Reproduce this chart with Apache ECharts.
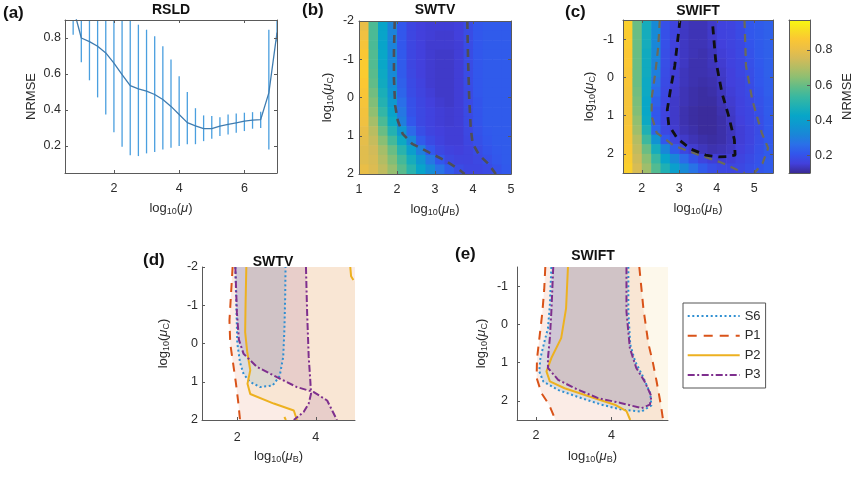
<!DOCTYPE html>
<html>
<head>
<meta charset="utf-8">
<script src="https://cdn.jsdelivr.net/npm/echarts/dist/echarts.min.js"></script>
<style>
html, body { margin: 0; padding: 0; background: #fff; }
#chart { width: 857px; height: 479px; }
</style>
</head>
<body>
<div id="chart"></div>
<script>
// ---- (a) RSLD: mean and error bars ----
const rsldX = [0.75, 1, 1.25, 1.5, 1.75, 2, 2.25, 2.5, 2.75, 3, 3.25, 3.5, 3.75, 4, 4.25, 4.5, 4.75, 5, 5.25, 5.5, 5.75, 6, 6.25, 6.5, 6.75, 7];
const rsldMean = [0.97, 0.80, 0.78, 0.754, 0.717, 0.66, 0.597, 0.535, 0.517, 0.505, 0.486, 0.458, 0.42, 0.375, 0.33, 0.312, 0.296, 0.296, 0.31, 0.32, 0.329, 0.338, 0.344, 0.347, 0.495, 0.83];
const rsldLow = [0.818, 0.665, 0.565, 0.47, 0.375, 0.277, 0.196, 0.148, 0.144, 0.159, 0.167, 0.18, 0.19, 0.2, 0.21, 0.21, 0.227, 0.24, 0.255, 0.264, 0.274, 0.283, 0.296, 0.30, 0.18, 0.78];
const rsldHigh = [1.12, 0.935, 0.995, 1.04, 1.06, 1.04, 1.0, 0.93, 0.874, 0.846, 0.81, 0.754, 0.68, 0.588, 0.5, 0.41, 0.37, 0.366, 0.36, 0.375, 0.38, 0.385, 0.388, 0.39, 0.846, 0.9];

// ---- (b) SWTV NRMSE map, cell centres ----
const swtvB = [1.125, 1.375, 1.625, 1.875, 2.125, 2.375, 2.625, 2.875, 3.125, 3.375, 3.625, 3.875, 4.125, 4.375, 4.625, 4.875];
const swtvC = [-1.875, -1.625, -1.375, -1.125, -0.875, -0.625, -0.375, -0.125, 0.125, 0.375, 0.625, 0.875, 1.125, 1.375, 1.625, 1.875];
const swtvNrmse = [
  [0.80, 0.56, 0.42, 0.31, 0.21, 0.17, 0.155, 0.15, 0.15, 0.15, 0.155, 0.185, 0.21, 0.22, 0.22, 0.22],
  [0.82, 0.56, 0.42, 0.31, 0.21, 0.17, 0.155, 0.15, 0.145, 0.145, 0.155, 0.185, 0.21, 0.22, 0.22, 0.22],
  [0.84, 0.56, 0.42, 0.31, 0.21, 0.17, 0.155, 0.145, 0.145, 0.145, 0.15, 0.185, 0.21, 0.22, 0.22, 0.22],
  [0.86, 0.57, 0.43, 0.32, 0.215, 0.17, 0.155, 0.145, 0.14, 0.14, 0.15, 0.185, 0.21, 0.22, 0.22, 0.22],
  [0.87, 0.57, 0.43, 0.32, 0.22, 0.17, 0.155, 0.145, 0.14, 0.14, 0.15, 0.185, 0.21, 0.22, 0.22, 0.22],
  [0.87, 0.58, 0.44, 0.33, 0.22, 0.175, 0.155, 0.145, 0.14, 0.14, 0.15, 0.185, 0.21, 0.22, 0.22, 0.22],
  [0.86, 0.59, 0.45, 0.34, 0.23, 0.18, 0.16, 0.145, 0.14, 0.14, 0.15, 0.185, 0.21, 0.22, 0.22, 0.22],
  [0.85, 0.61, 0.47, 0.36, 0.24, 0.185, 0.165, 0.15, 0.14, 0.14, 0.15, 0.18, 0.21, 0.22, 0.22, 0.22],
  [0.84, 0.63, 0.49, 0.38, 0.26, 0.195, 0.17, 0.155, 0.145, 0.14, 0.15, 0.18, 0.205, 0.22, 0.22, 0.22],
  [0.83, 0.65, 0.52, 0.41, 0.28, 0.2, 0.175, 0.16, 0.15, 0.145, 0.15, 0.18, 0.205, 0.22, 0.22, 0.22],
  [0.82, 0.68, 0.56, 0.44, 0.30, 0.21, 0.175, 0.16, 0.15, 0.145, 0.15, 0.18, 0.205, 0.22, 0.22, 0.22],
  [0.80, 0.71, 0.60, 0.49, 0.37, 0.25, 0.19, 0.165, 0.155, 0.15, 0.15, 0.175, 0.2, 0.215, 0.22, 0.22],
  [0.79, 0.73, 0.64, 0.55, 0.44, 0.32, 0.22, 0.18, 0.16, 0.15, 0.15, 0.17, 0.195, 0.21, 0.22, 0.22],
  [0.78, 0.75, 0.68, 0.60, 0.50, 0.40, 0.30, 0.21, 0.175, 0.16, 0.155, 0.165, 0.185, 0.205, 0.215, 0.22],
  [0.78, 0.76, 0.70, 0.63, 0.55, 0.46, 0.37, 0.28, 0.21, 0.175, 0.165, 0.165, 0.175, 0.195, 0.21, 0.22],
  [0.80, 0.77, 0.72, 0.66, 0.58, 0.50, 0.42, 0.34, 0.27, 0.22, 0.185, 0.17, 0.17, 0.18, 0.20, 0.215]
];
const swtvContourL = [[1.94, -2], [1.92, -1.2], [1.92, -0.5], [1.95, 0.2], [2.02, 0.6], [2.15, 0.95], [2.4, 1.21], [2.83, 1.43], [3.27, 1.65], [3.62, 1.87], [3.78, 2]];
const swtvContourR = [[3.85, -2], [3.87, -1], [3.9, 0], [3.94, 0.8], [3.99, 1.2], [4.16, 1.5], [4.41, 1.74], [4.6, 2]];

// ---- (c) SWIFT NRMSE map, cell centres ----
const swiftB = [1.625, 1.875, 2.125, 2.375, 2.625, 2.875, 3.125, 3.375, 3.625, 3.875, 4.125, 4.375, 4.625, 4.875, 5.125, 5.375];
const swiftC = [-1.375, -1.125, -0.875, -0.625, -0.375, -0.125, 0.125, 0.375, 0.625, 0.875, 1.125, 1.375, 1.625, 1.875, 2.125, 2.375];
const swiftNrmse = [
  [0.88, 0.60, 0.46, 0.33, 0.195, 0.165, 0.135, 0.125, 0.125, 0.14, 0.16, 0.165, 0.18, 0.21, 0.22, 0.23],
  [0.87, 0.60, 0.46, 0.33, 0.195, 0.165, 0.135, 0.125, 0.125, 0.14, 0.16, 0.165, 0.18, 0.21, 0.22, 0.23],
  [0.87, 0.60, 0.46, 0.32, 0.195, 0.16, 0.135, 0.125, 0.125, 0.135, 0.155, 0.165, 0.175, 0.205, 0.22, 0.23],
  [0.86, 0.60, 0.45, 0.32, 0.19, 0.16, 0.135, 0.125, 0.12, 0.13, 0.15, 0.16, 0.175, 0.2, 0.22, 0.23],
  [0.86, 0.60, 0.45, 0.31, 0.19, 0.155, 0.135, 0.12, 0.12, 0.13, 0.145, 0.16, 0.17, 0.195, 0.215, 0.23],
  [0.85, 0.60, 0.45, 0.30, 0.185, 0.15, 0.13, 0.12, 0.12, 0.125, 0.14, 0.155, 0.17, 0.19, 0.21, 0.23],
  [0.85, 0.60, 0.44, 0.27, 0.18, 0.15, 0.13, 0.12, 0.115, 0.12, 0.135, 0.155, 0.165, 0.185, 0.21, 0.225],
  [0.84, 0.61, 0.44, 0.25, 0.175, 0.145, 0.125, 0.115, 0.11, 0.115, 0.13, 0.15, 0.165, 0.18, 0.205, 0.225],
  [0.84, 0.62, 0.43, 0.23, 0.17, 0.14, 0.125, 0.115, 0.11, 0.11, 0.125, 0.145, 0.16, 0.175, 0.2, 0.22],
  [0.84, 0.63, 0.43, 0.21, 0.165, 0.14, 0.12, 0.11, 0.105, 0.105, 0.12, 0.14, 0.16, 0.17, 0.195, 0.22],
  [0.84, 0.65, 0.44, 0.21, 0.165, 0.14, 0.12, 0.11, 0.105, 0.105, 0.115, 0.135, 0.155, 0.17, 0.19, 0.215],
  [0.85, 0.67, 0.48, 0.24, 0.175, 0.145, 0.125, 0.115, 0.105, 0.105, 0.115, 0.13, 0.15, 0.165, 0.185, 0.215],
  [0.85, 0.70, 0.54, 0.36, 0.21, 0.165, 0.14, 0.125, 0.115, 0.11, 0.115, 0.13, 0.15, 0.165, 0.19, 0.215],
  [0.86, 0.72, 0.60, 0.46, 0.32, 0.22, 0.17, 0.145, 0.13, 0.12, 0.125, 0.135, 0.155, 0.17, 0.195, 0.22],
  [0.87, 0.74, 0.64, 0.53, 0.42, 0.32, 0.25, 0.20, 0.165, 0.15, 0.145, 0.15, 0.165, 0.18, 0.2, 0.22],
  [0.88, 0.76, 0.67, 0.57, 0.48, 0.40, 0.33, 0.27, 0.22, 0.19, 0.175, 0.17, 0.175, 0.19, 0.205, 0.22]
];
const swiftInner = [[3.02, -1.5], [2.95, -0.9], [2.88, -0.3], [2.77, 0.3], [2.68, 0.85], [2.72, 1.25], [2.95, 1.6], [3.3, 1.87], [3.7, 2.03], [4.05, 2.08], [4.3, 2.07], [4.49, 2.03], [4.47, 1.63], [4.32, 1.02], [4.14, 0.41], [3.97, -0.46], [3.88, -1.5]];
const swiftOuterL = [[2.48, -1.5], [2.44, -0.8], [2.36, -0.1], [2.27, 0.5], [2.26, 1.0], [2.4, 1.45], [2.85, 1.78], [3.53, 2.03], [4.1, 2.22], [4.55, 2.42], [4.75, 2.5]];
const swiftOuterR = [[4.74, -1.5], [4.78, -0.3], [4.95, 0.6], [5.2, 1.45], [5.37, 1.85], [5.22, 2.25], [5.0, 2.5]];

// colour scale of the maps
const cbMin = 0.1, cbMax = 0.97;
const cbTicks = [0.2, 0.4, 0.6, 0.8];

// ---- (d) SWTV region boundaries ----
const dS6 = [[1.95, -2], [1.98, -0.8], [2.0, 0], [2.07, 0.5], [2.16, 0.8], [2.32, 1.0], [2.58, 1.14], [2.9, 1.1], [3.08, 0.85], [3.17, 0.35], [3.2, -0.35], [3.22, -1.2], [3.23, -2]];
const dP1 = [[1.88, -2], [1.84, -1.3], [1.8, -0.6], [1.82, 0], [1.89, 0.5], [1.96, 1.0], [2.02, 1.5], [2.07, 2]];
const dP2 = [[2.23, -2], [2.21, -1], [2.2, -0.3], [2.25, 0.2], [2.33, 0.7], [2.26, 1.05], [2.33, 1.32], [2.93, 1.57], [3.44, 1.75], [3.52, 2]];
const dP2Corner = [[4.88, -2], [4.9, -1.76], [4.96, -1.66]];
const dP2Bit = [[3.2, 1.92], [3.24, 2]];
const dP3L = [[1.95, -2], [1.99, -0.8], [2.04, -0.1], [2.16, 0.27], [2.5, 0.61], [3.01, 0.88], [3.52, 1.14], [3.95, 1.27], [4.29, 1.49], [4.54, 2]];
const dP3R = [[3.75, -2], [3.78, -0.8], [3.82, 0.35], [3.86, 0.96], [3.88, 1.31], [3.82, 1.57], [3.69, 1.79], [3.44, 2]];

// ---- (e) SWIFT region boundaries ----
const eS6 = [[2.41, -1.5], [2.37, -0.5], [2.32, 0.1], [2.24, 0.4], [2.12, 0.88], [2.09, 1.23], [2.2, 1.5], [2.6, 1.72], [3.21, 1.93], [3.74, 2.1], [4.27, 2.23], [4.8, 2.28], [5.06, 2.12], [5.03, 1.8], [4.82, 1.33], [4.63, 0.97], [4.5, 0.53], [4.45, -0.33], [4.45, -1.5]];
const eP1L = [[2.25, -1.5], [2.22, -0.9], [2.17, -0.3], [2.1, 0.3], [2.03, 0.9], [2.02, 1.4], [2.15, 1.8], [2.35, 2.1], [2.52, 2.5]];
const eP1R = [[4.74, -1.5], [4.8, -0.9], [4.85, -0.4], [4.98, 0.5], [5.1, 1.0], [5.2, 1.5], [5.31, 2.1], [5.37, 2.5]];
const eP2 = [[2.85, -1.5], [2.8, -0.42], [2.67, 0.36], [2.41, 0.88], [2.28, 1.23], [2.37, 1.49], [2.76, 1.67], [3.56, 1.93], [4.09, 2.1], [4.4, 2.27], [4.5, 2.5]];
const eP3 = [[2.46, -1.5], [2.41, -0.33], [2.37, 0.36], [2.32, 0.88], [2.32, 1.14], [2.59, 1.45], [3.03, 1.67], [3.65, 1.93], [4.27, 2.06], [4.8, 2.19], [5.02, 2.1], [5.06, 1.88], [4.88, 1.49], [4.66, 1.14], [4.49, 0.62], [4.4, -0.33], [4.4, -1.5]];

const legendNames = ['S6', 'P1', 'P2', 'P3'];

// ---------------------------------------------------------------
const FONT = '"Liberation Sans", Arial, Helvetica, sans-serif';
const AXIS_COLOR = '#5a5a5a';
const TEXT_COLOR = '#2b2b2b';
// parula-like map, evenly spaced stops (tuned to the printed figure)
const parula = ['#3a2a95', '#4240dc', '#3256ec', '#2a70e8', '#1a86d8', '#0f97d0', '#07a6c8', '#1fb0b4', '#3ab8a0',
  '#60bc88', '#8cbf73', '#b2bd64', '#d4bb58', '#ecbf45', '#fbc733', '#f7df22', '#f7f910'];
const lineColors = { S6: '#2f8fd2', P1: '#d95319', P2: '#edb120', P3: '#7e2f8e' };
const fillColors = {
  S6: 'rgba(0,114,189,0.12)', P1: 'rgba(217,83,25,0.11)',
  P2: 'rgba(237,177,32,0.09)', P3: 'rgba(126,47,142,0.13)'
};
const dashes = { S6: [2, 2.6], P1: [9, 7], P2: 'solid', P3: [7, 2.5, 2, 2.5] };

const RICH = {
  sub: { fontSize: 9, fontFamily: FONT, color: TEXT_COLOR, padding: [7, 0, 0, 0] },
  it: { fontSize: 13, fontFamily: FONT, color: TEXT_COLOR, fontStyle: 'italic' }
};

function axis(opt) {
  const a = {
    type: 'value', z: 10,
    axisLine: { show: true, onZero: false, lineStyle: { color: AXIS_COLOR, width: 1 } },
    axisTick: { show: true, inside: true, length: 3, lineStyle: { color: AXIS_COLOR } },
    axisLabel: { color: TEXT_COLOR, fontSize: 12.5, fontFamily: FONT },
    splitLine: { show: false },
    nameLocation: 'middle',
    nameTextStyle: { color: TEXT_COLOR, fontSize: 13, fontFamily: FONT, rich: RICH }
  };
  for (const k in opt) {
    if (a[k] && typeof a[k] === 'object' && !Array.isArray(opt[k]) && typeof opt[k] === 'object') {
      a[k] = Object.assign({}, a[k], opt[k]);
    } else {
      a[k] = opt[k];
    }
  }
  return a;
}
function ticks(vals, margin) {
  return {
    axisTick: { customValues: vals },
    axisLabel: { customValues: vals, margin: margin }
  };
}
const noLabel = { axisLabel: { show: false } };

const grid = [
  { left: 65, top: 20, width: 212, height: 153 },   // a
  { left: 359, top: 21, width: 152, height: 153 },  // b
  { left: 623, top: 20, width: 150, height: 153 },  // c
  { left: 789, top: 20, width: 21, height: 153 },   // colour bar
  { left: 202, top: 267, width: 153, height: 153 }, // d
  { left: 517, top: 267, width: 151, height: 153 }  // e
];

const xAxis = [
  axis(Object.assign({ gridIndex: 0, min: 0.5, max: 7, name: 'log{sub|10}({it|μ})', nameGap: 27 }, ticks([2, 4, 6], 9))),
  axis(Object.assign({ gridIndex: 0, min: 0.5, max: 7, position: 'top' }, ticks([2, 4, 6], 9), noLabel)),
  axis(Object.assign({ gridIndex: 1, min: 1, max: 5, name: 'log{sub|10}({it|μ}{sub|B})', nameGap: 27 }, ticks([1, 2, 3, 4, 5], 9))),
  axis(Object.assign({ gridIndex: 1, min: 1, max: 5, position: 'top' }, ticks([1, 2, 3, 4, 5], 9), noLabel)),
  axis(Object.assign({ gridIndex: 2, min: 1.5, max: 5.5, name: 'log{sub|10}({it|μ}{sub|B})', nameGap: 27 }, ticks([2, 3, 4, 5], 9))),
  axis(Object.assign({ gridIndex: 2, min: 1.5, max: 5.5, position: 'top' }, ticks([2, 3, 4, 5], 9), noLabel)),
  axis({ gridIndex: 3, min: 0, max: 1, axisTick: { show: false }, axisLabel: { show: false } }),
  axis({ gridIndex: 3, min: 0, max: 1, position: 'top', axisTick: { show: false }, axisLabel: { show: false } }),
  axis(Object.assign({ gridIndex: 4, min: 1.1, max: 5, name: 'log{sub|10}({it|μ}{sub|B})', nameGap: 28 }, ticks([2, 4], 11))),
  axis(Object.assign({ gridIndex: 5, min: 1.5, max: 5.5, name: 'log{sub|10}({it|μ}{sub|B})', nameGap: 28 }, ticks([2, 4], 9)))
];

const yAxis = [
  axis(Object.assign({ gridIndex: 0, min: 0.05, max: 0.9, name: 'NRMSE', nameGap: 27 }, ticks([0.2, 0.4, 0.6, 0.8], 4))),
  axis(Object.assign({ gridIndex: 0, min: 0.05, max: 0.9, position: 'right' }, ticks([0.2, 0.4, 0.6, 0.8], 4), noLabel)),
  axis(Object.assign({ gridIndex: 1, min: -2, max: 2, inverse: true, name: 'log{sub|10}({it|μ}{sub|C})', nameGap: 24 }, ticks([-2, -1, 0, 1, 2], 5))),
  axis(Object.assign({ gridIndex: 1, min: -2, max: 2, inverse: true, position: 'right' }, ticks([-2, -1, 0, 1, 2], 5), noLabel)),
  axis(Object.assign({ gridIndex: 2, min: -1.5, max: 2.5, inverse: true, name: 'log{sub|10}({it|μ}{sub|C})', nameGap: 26 }, ticks([-1, 0, 1, 2], 9))),
  axis(Object.assign({ gridIndex: 2, min: -1.5, max: 2.5, inverse: true, position: 'right' }, ticks([-1, 0, 1, 2], 9), noLabel)),
  axis(Object.assign({ gridIndex: 3, min: cbMin, max: cbMax, position: 'right', name: 'NRMSE', nameGap: 31, nameRotate: 90 }, ticks(cbTicks, 5))),
  axis({ gridIndex: 3, min: cbMin, max: cbMax, position: 'left', axisTick: { show: false }, axisLabel: { show: false } }),
  axis(Object.assign({ gridIndex: 4, min: -2, max: 2, inverse: true, name: 'log{sub|10}({it|μ}{sub|C})', nameGap: 31 }, ticks([-2, -1, 0, 1, 2], 4))),
  axis(Object.assign({ gridIndex: 5, min: -1.5, max: 2.5, inverse: true, name: 'log{sub|10}({it|μ}{sub|C})', nameGap: 28 }, ticks([-1, 0, 1, 2], 9)))
];

const series = [];
const mapSeries = [];

// (a) error bars + mean line
series.push({
  type: 'custom', xAxisIndex: 0, yAxisIndex: 0, silent: true,
  data: rsldX.map((x, i) => [x, rsldLow[i], rsldHigh[i]]),
  encode: { x: 0, y: [1, 2] },
  renderItem: function (params, api) {
    const cs = params.coordSys;
    const lo = api.coord([api.value(0), api.value(1)]);
    const hi = api.coord([api.value(0), api.value(2)]);
    const y1 = Math.min(lo[1], cs.y + cs.height);
    const y2 = Math.max(hi[1], cs.y);
    return { type: 'line', shape: { x1: lo[0], y1: y1, x2: lo[0], y2: y2 }, style: { stroke: '#4a9fdf', lineWidth: 1.3 } };
  }
});
series.push({
  type: 'line', xAxisIndex: 0, yAxisIndex: 0, silent: true, symbol: 'none',
  data: rsldX.map((x, i) => [x, rsldMean[i]]),
  lineStyle: { color: '#3f7cb0', width: 1.3 }
});

// heat maps
function mapCells(bs, cs, grid) {
  const out = [];
  cs.forEach((c, i) => bs.forEach((b, j) => out.push([b, c, grid[i][j]])));
  return out;
}
function cellSeries(xi, yi, data) {
  return {
    type: 'custom', xAxisIndex: xi, yAxisIndex: yi, silent: true, z: 1,
    data: data, encode: { x: 0, y: 1 },
    renderItem: function (params, api) {
      const b = api.value(0), c = api.value(1);
      const p0 = api.coord([b - 0.125, c - 0.125]);
      const p1 = api.coord([b + 0.125, c + 0.125]);
      return {
        type: 'rect',
        shape: { x: Math.min(p0[0], p1[0]), y: Math.min(p0[1], p1[1]), width: Math.abs(p1[0] - p0[0]) + 0.6, height: Math.abs(p1[1] - p0[1]) + 0.6 },
        style: { fill: api.visual('color') }
      };
    }
  };
}
function contour(xi, yi, pts, color, width, dash) {
  return {
    type: 'line', xAxisIndex: xi, yAxisIndex: yi, silent: true, symbol: 'none', z: 3,
    data: pts, lineStyle: { color: color, width: width, type: dash }
  };
}

mapSeries.push(series.length);
series.push(cellSeries(2, 2, mapCells(swtvB, swtvC, swtvNrmse)));
series.push(contour(2, 2, swtvContourL, '#4f4f55', 2.6, [8, 6]));
series.push(contour(2, 2, swtvContourR, '#4f4f55', 2.6, [8, 6]));

mapSeries.push(series.length);
series.push(cellSeries(4, 4, mapCells(swiftB, swiftC, swiftNrmse)));
series.push(contour(4, 4, swiftOuterL, '#6b6b58', 2.2, [8, 6]));
series.push(contour(4, 4, swiftOuterR, '#6b6b58', 2.2, [8, 6]));
series.push(contour(4, 4, swiftInner, '#111111', 2.8, [8, 6]));

// colour bar
series.push({
  type: 'custom', xAxisIndex: 6, yAxisIndex: 6, silent: true,
  data: [[0, cbMin, cbMax]], encode: { x: 0, y: [1, 2] },
  renderItem: function (params, api) {
    const p0 = api.coord([0, api.value(1)]);
    const p1 = api.coord([1, api.value(2)]);
    return {
      type: 'rect',
      shape: { x: p0[0], y: p1[1], width: p1[0] - p0[0], height: p0[1] - p1[1] },
      style: { fill: new echarts.graphic.LinearGradient(0, 1, 0, 0, parula.map((c, i) => ({ offset: i / (parula.length - 1), color: c }))) }
    };
  }
});

// (d), (e) shaded regions and boundaries
function fill(xi, yi, pts, color) {
  return {
    type: 'custom', xAxisIndex: xi, yAxisIndex: yi, silent: true, z: 1,
    data: pts, encode: { x: 0, y: 1 },
    renderItem: function (params, api) {
      if (params.dataIndex !== 0) return;
      return { type: 'polygon', shape: { points: pts.map(p => api.coord(p)) }, style: { fill: color } };
    }
  };
}
function region(xi, yi, name, pts) {
  return {
    type: 'line', name: name, xAxisIndex: xi, yAxisIndex: yi, silent: true, symbol: 'none', z: 3,
    data: pts, itemStyle: { color: lineColors[name] },
    lineStyle: { color: lineColors[name], width: 2, type: dashes[name] }
  };
}

series.push(fill(8, 8, dP1.concat([[5, 2], [5, -2]]), fillColors.P1));
series.push(fill(8, 8, dS6, fillColors.S6));
series.push(fill(8, 8, dP2.concat([[5, 2], [5, -1.62]], dP2Corner.slice().reverse()), fillColors.P2));
series.push(fill(8, 8, dP3L.concat(dP3R.slice().reverse()), fillColors.P3));
series.push(region(8, 8, 'P1', dP1));
series.push(region(8, 8, 'S6', dS6));
series.push(region(8, 8, 'P2', dP2));
series.push(region(8, 8, 'P2', dP2Corner));
series.push(region(8, 8, 'P2', dP2Bit));
series.push(region(8, 8, 'P3', dP3L));
series.push(region(8, 8, 'P3', dP3R));

series.push(fill(9, 9, eP1L.concat(eP1R.slice().reverse()), fillColors.P1));
series.push(fill(9, 9, eS6, fillColors.S6));
series.push(fill(9, 9, eP2.concat([[5.5, 2.5], [5.5, -1.5]]), fillColors.P2));
series.push(fill(9, 9, eP3, fillColors.P3));
series.push(region(9, 9, 'S6', eS6));
series.push(region(9, 9, 'P1', eP1L));
series.push(region(9, 9, 'P1', eP1R));
series.push(region(9, 9, 'P2', eP2));
series.push(region(9, 9, 'P3', eP3));

function label(text, x, y, size, align) {
  return {
    type: 'text', x: x, y: y, silent: true,
    style: { text: text, fill: '#111', font: 'bold ' + size + 'px ' + FONT, textAlign: align, textVerticalAlign: 'middle' }
  };
}

const chart = echarts.init(document.getElementById('chart'), null, { renderer: 'canvas' });
chart.setOption({
  animation: false,
  backgroundColor: '#fff',
  grid: grid,
  xAxis: xAxis,
  yAxis: yAxis,
  visualMap: {
    type: 'continuous', show: false, min: cbMin, max: cbMax, dimension: 2,
    seriesIndex: mapSeries, inRange: { color: parula }
  },
  legend: {
    data: legendNames, orient: 'vertical', left: 683, top: 303,
    itemWidth: 52, itemHeight: 12, itemGap: 6.6,
    padding: [6.6, 5, 6.6, 3.7],
    borderColor: '#555', borderWidth: 1, backgroundColor: '#fff',
    selectedMode: false,
    itemStyle: { opacity: 0 },
    textStyle: { fontSize: 13, color: TEXT_COLOR, fontFamily: FONT }
  },
  graphic: [
    label('(a)', 3, 13, 17, 'left'),
    label('RSLD', 171, 10, 14, 'center'),
    label('(b)', 302, 10, 17, 'left'),
    label('SWTV', 435, 10, 14, 'center'),
    label('(c)', 565, 12, 17, 'left'),
    label('SWIFT', 698, 11, 14, 'center'),
    label('(d)', 143, 260, 17, 'left'),
    label('SWTV', 273, 262, 14, 'center'),
    label('(e)', 455, 254, 17, 'left'),
    label('SWIFT', 593, 256, 14, 'center')
  ],
  series: series
});
</script>
</body>
</html>
